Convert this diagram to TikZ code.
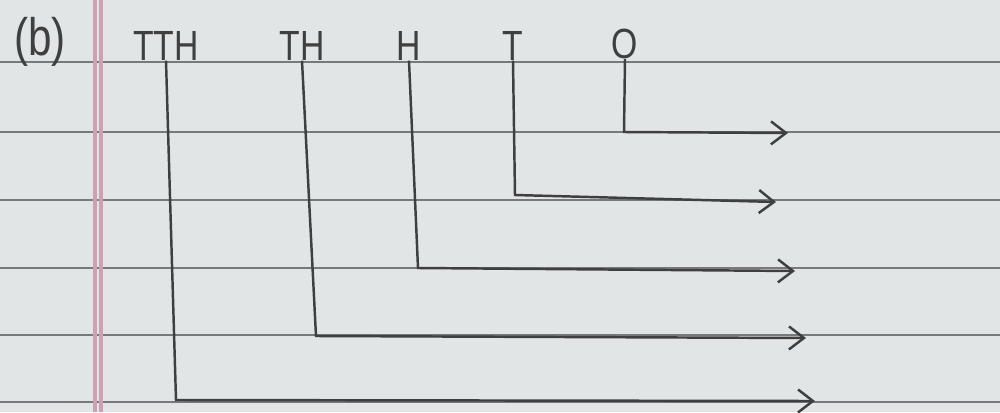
\documentclass[tikz,border=0pt]{standalone}
\usepackage{fontspec}
\setmainfont[FakeStretch=0.8]{Liberation Sans}
\usetikzlibrary{arrows.meta}
\definecolor{paper}{RGB}{226,229,229}
\definecolor{rulecol}{RGB}{118,122,122}
\definecolor{pencil}{RGB}{62,64,64}
\definecolor{margincol}{RGB}{205,160,180}
\begin{document}
\begin{tikzpicture}[x=0.1mm,y=-0.1mm,
  rule/.style={draw=rulecol, line width=0.6pt},
  marginline/.style={draw=margincol, line width=0.9pt},
  lbl/.style={font=\fontsize{12}{12}\selectfont, text=pencil, inner sep=0pt, anchor=base},
  wire/.style={draw=pencil, line width=0.7pt, -{Straight Barb[length=1.5mm,width=2.3mm]}}]
\useasboundingbox[fill=paper] (0,0) rectangle (1000,412);
% ruled lines
\foreach \yy in {62,132,200,268,335,402}{\draw[rule] (0,\yy) -- (1000,\yy);}
% margin
\draw[marginline] (95,0) -- (95,412);
\draw[marginline] (101,0) -- (101,412);
% labels
\node[lbl, font=\fontsize{15}{15}\selectfont] (b) at (40,55) {(b)};
\node[lbl] (TTH) at (166,60) {TTH};
\node[lbl] (TH) at (302,60) {TH};
\node[lbl] (H) at (409,60) {H};
\node[lbl] (T) at (513,60) {T};
\node[lbl] (O) at (625,58) {O};
% corners and arrow ends
\coordinate (cO) at (624,132);   \coordinate (aO) at (788,133);
\coordinate (cT) at (515,195);   \coordinate (aT) at (776,202);
\coordinate (cH) at (418,268);   \coordinate (aH) at (795,271);
\coordinate (cTH) at (316,336);  \coordinate (aTH) at (806,338);
\coordinate (cTTH) at (176,400); \coordinate (aTTH) at (815,401);
% connectors
\draw[wire] (O.south) -- (cO) -- (aO);
\draw[wire] (T.south) -- (cT) -- (aT);
\draw[wire] (H.south) -- (cH) -- (aH);
\draw[wire] (TH.south) -- (cTH) -- (aTH);
\draw[wire] (TTH.south) -- (cTTH) -- (aTTH);
\end{tikzpicture}
\end{document}
